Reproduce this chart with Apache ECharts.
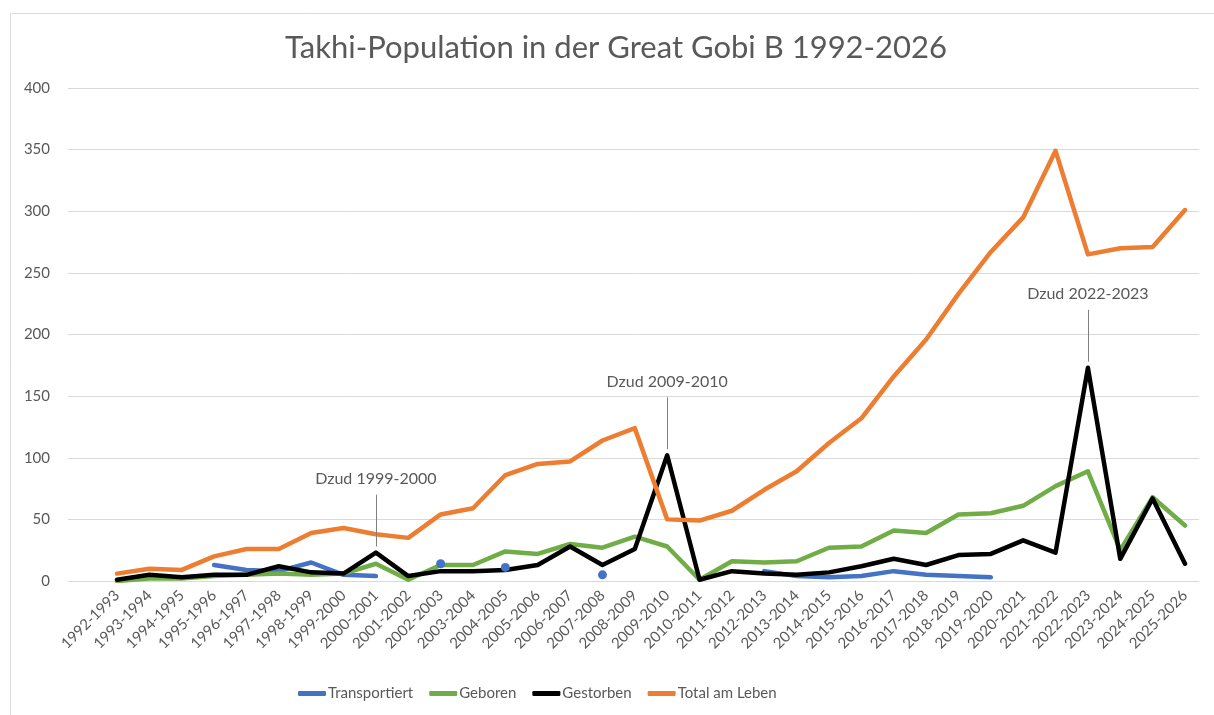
<!DOCTYPE html>
<html>
<head>
<meta charset="utf-8">
<script src="https://cdn.jsdelivr.net/npm/echarts@6/dist/echarts.min.js"></script>
<style>
html,body{margin:0;padding:0;background:#fff;}
#chart{width:1214px;height:715px;}
</style>
</head>
<body>
<div id="chart"></div>
<script>
const categories = ['1992-1993','1993-1994','1994-1995','1995-1996','1996-1997','1997-1998','1998-1999','1999-2000','2000-2001','2001-2002','2002-2003','2003-2004','2004-2005','2005-2006','2006-2007','2007-2008','2008-2009','2009-2010','2010-2011','2011-2012','2012-2013','2013-2014','2014-2015','2015-2016','2016-2017','2017-2018','2018-2019','2019-2020','2020-2021','2021-2022','2022-2023','2023-2024','2024-2025','2025-2026'];
const transportiert = [null,null,null,13,9,8,15,5,4,null,14,null,11,null,null,5,null,null,null,null,8,4,3,4,8,5,4,3,null,null,null,null,null,null];
const geboren = [0,2,2,4,5,6,5,6,14,1,13,13,24,22,30,27,36,28,1,16,15,16,27,28,41,39,54,55,61,77,89,25,68,45];
const gestorben = [1,5,3,5,5,12,7,6,23,4,8,8,9,13,28,13,26,102,1,8,6,5,7,12,18,13,21,22,33,23,173,18,67,14];
const totalAmLeben = [6,10,9,20,26,26,39,43,38,35,54,59,86,95,97,114,124,50,49,57,74,89,112,132,166,196,233,267,295,349,265,270,271,301];
const yTicks = [0,50,100,150,200,250,300,350,400];
const annotCats = ['2000-2001','2009-2010','2022-2023'];
const annotTexts = ['Dzud 1999-2000','Dzud 2009-2010','Dzud 2022-2023'];

const FONT = 'Lato';
const TXT = '#595959';

function isolated(arr, i) {
  return arr[i] != null && (i === 0 || arr[i-1] == null) && (i === arr.length-1 || arr[i+1] == null);
}

const annotData = annotCats.map((c, k) => {
  const v = gestorben[categories.indexOf(c)];
  return [
    {coord: [c, v + 5], label: {formatter: annotTexts[k]}},
    {coord: [c, v + 47]}
  ];
});

const chart = echarts.init(document.getElementById('chart'));
const lineCommon = {
  type: 'line',
  xAxisIndex: 0, yAxisIndex: 0,
  showSymbol: false,
  connectNulls: false,
  animation: false,
};
chart.setOption({
  animation: false,
  textStyle: {fontFamily: FONT},
  graphic: [{
    type: 'rect', left: 8, top: 11, silent: true,
    shape: {width: 1220, height: 720},
    style: {fill: 'none', stroke: '#d9d9d9', lineWidth: 1}
  }],
  title: {
    text: 'Takhi-Population in der Great Gobi B 1992-2026',
    left: 280, top: 27,
    textStyle: {fontFamily: FONT, fontSize: 31, fontWeight: 'normal', color: TXT}
  },
  legend: {
    left: 293, bottom: 9,
    icon: 'roundRect',
    itemWidth: 28, itemHeight: 5, itemGap: 16,
    textStyle: {fontFamily: FONT, fontSize: 15, color: TXT, padding: [0,0,0,-3]},
    data: ['Transportiert','Geboren','Gestorben','Total am Leben']
  },
  grid: [
    {left: 117, right: 29, top: 88, bottom: 134},
    {left: 68, right: 15, top: 88, bottom: 134}
  ],
  xAxis: [
    {
      type: 'category', gridIndex: 0, data: categories, boundaryGap: false,
      axisLine: {show: false}, axisTick: {show: false},
      axisLabel: {rotate: 45, interval: 0, margin: 12, fontFamily: FONT, fontSize: 15, color: TXT}
    },
    {type: 'value', gridIndex: 1, show: false, min: 0, max: 1}
  ],
  yAxis: [
    {type: 'value', gridIndex: 0, min: 0, max: 400, interval: 50, show: false, splitLine: {show: false}},
    {
      type: 'value', gridIndex: 1, min: yTicks[0], max: yTicks[yTicks.length-1], interval: 50,
      axisLine: {show: false}, axisTick: {show: false},
      axisLabel: {margin: 18, fontFamily: FONT, fontSize: 15, color: TXT},
      splitLine: {lineStyle: {color: '#d9d9d9', width: 1}}
    }
  ],
  series: [
    Object.assign({}, lineCommon, {
      name: 'Transportiert', data: transportiert,
      showSymbol: true, showAllSymbol: true, symbol: 'circle',
      symbolSize: (v, p) => isolated(transportiert, p.dataIndex) ? 9 : 0,
      itemStyle: {color: '#4472C4'},
      lineStyle: {color: '#4472C4', width: 4.5, cap: 'round', join: 'round'}
    }),
    Object.assign({}, lineCommon, {
      name: 'Geboren', data: geboren,
      itemStyle: {color: '#70AD47'},
      lineStyle: {color: '#70AD47', width: 4.5, cap: 'round', join: 'round'}
    }),
    Object.assign({}, lineCommon, {
      name: 'Gestorben', data: gestorben,
      itemStyle: {color: '#000000'},
      lineStyle: {color: '#000000', width: 4.5, cap: 'round', join: 'round'},
      markLine: {
        silent: true, symbol: 'none', animation: false,
        lineStyle: {color: '#7f7f7f', width: 1, type: 'solid'},
        label: {show: true, position: 'end', distance: 8, fontFamily: FONT, fontSize: 16, color: TXT},
        emphasis: {disabled: true},
        data: annotData
      }
    }),
    Object.assign({}, lineCommon, {
      name: 'Total am Leben', data: totalAmLeben,
      itemStyle: {color: '#ED7D31'},
      lineStyle: {color: '#ED7D31', width: 4.5, cap: 'round', join: 'round'}
    })
  ]
});
</script>
</body>
</html>
